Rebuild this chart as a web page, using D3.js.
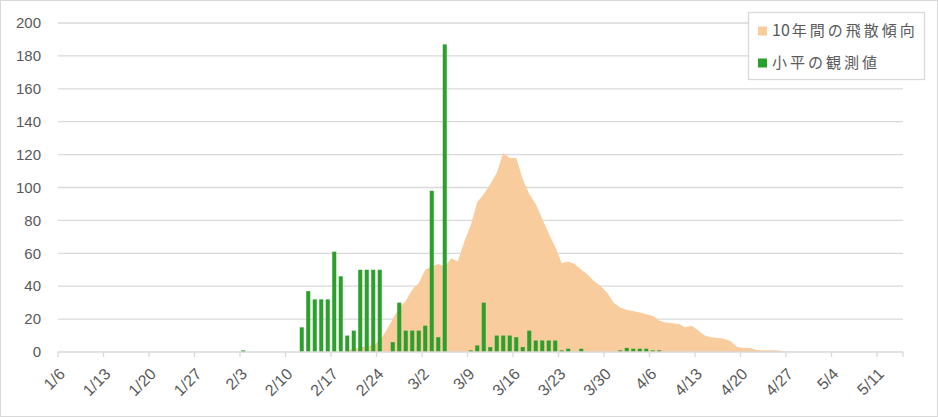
<!DOCTYPE html>
<html><head><meta charset="utf-8">
<script src="https://cdn.jsdelivr.net/npm/d3@7"></script>
<style>
html,body{margin:0;padding:0;background:#fff;}
svg{display:block;}
text{font-family:"Liberation Sans","Noto Sans",sans-serif;}
.cjk{font-family:"Noto Sans CJK JP","Noto Sans",sans-serif;}
</style></head>
<body>
<script>
// ---- data ----
const firstDay = "2020-01-06";
const lastDay = "2020-05-14";
const xTickLabels = ["1/6","1/13","1/20","1/27","2/3","2/10","2/17","2/24","3/2","3/9","3/16","3/23","3/30","4/6","4/13","4/20","4/27","5/4","5/11"];
const yTicks = [0,20,40,60,80,100,120,140,160,180,200];
const seriesNames = ["10年間の飛散傾向","小平の観測値"];
// 10-year trend, one value per day starting at trendStart
const trendStart = "2/18";
const trendValues = [0,1,2,3,3.5,4,7,13,20,27,31,38,42,50,52,53.5,52,57,55,67,77,91,96,102,109,121,118,118,105,96,90,81,72,64,54,55,53.5,50,47,43,40,36,30,27,25.5,25,24,23,22,19,18,17.5,17,15,16,13,10,9,8.5,8,6.5,3,2.5,2.4,1.2,1,1,1,0.5,0];
// observed values in Kodaira
const obsDates = ["2/3","2/12","2/13","2/14","2/15","2/16","2/17","2/18","2/19","2/20","2/21","2/22","2/23","2/24","2/26","2/27","2/28","2/29","3/1","3/2","3/3","3/4","3/5","3/9","3/10","3/11","3/12","3/13","3/14","3/15","3/16","3/17","3/18","3/19","3/20","3/21","3/22","3/23","3/24","3/26","4/1","4/2","4/3","4/4","4/5","4/6","4/7"];
const obsValues = [1,15,37,32,32,32,61,46,10,13,50,50,50,50,6,30,13,13,13,16,98,9,187,1,4,30,3,10,10,10,9,3,13,7,7,7,7,1,2,2,1,2.5,2,2,2,1,1];

(function(){
const W = 938, H = 417;
const fmt = d3.timeFormat("%-m/%-d");
const days = d3.timeDay.range(new Date(firstDay+"T00:00"), d3.timeDay.offset(new Date(lastDay+"T00:00"),1)).map(fmt);

const svg = d3.select("body").append("svg").attr("width",W).attr("height",H);
svg.append("rect").attr("x",0.5).attr("y",0.5).attr("width",W-1).attr("height",H-1)
  .attr("fill","#fff").attr("stroke","#d9d9d9");

const mL = 58, mR = 903, mT = 23, mB = 352;
const pad = 0.38;
const x = d3.scaleBand().domain(days).range([mL,mR]).paddingInner(pad).paddingOuter(pad/2);
const y = d3.scaleLinear().domain([0,200]).range([mB,mT]);
const step = x.step();
const tickX = d => x(d) - step*pad/2;

svg.append("g").selectAll("line").data(yTicks.filter(v=>v>0)).join("line")
  .attr("x1",mL).attr("x2",mR).attr("y1",d=>y(d)).attr("y2",d=>y(d))
  .attr("stroke","#d9d9d9").attr("stroke-width",1.3);

svg.append("g").selectAll("text").data(yTicks).join("text")
  .attr("x",41).attr("y",d=>y(d)).attr("dy","0.35em").attr("text-anchor","end")
  .attr("font-size",15).attr("fill","#595959").text(d=>d);

const si = days.indexOf(trendStart);
const trend = trendValues.map((v,i)=>({d:days[si+i], v}));
svg.append("path").datum(trend)
  .attr("fill","#f9cc9d")
  .attr("d", d3.area().x(p=>x(p.d)+x.bandwidth()/2).y0(y(0)).y1(p=>y(p.v)));

const obs = obsDates.map((d,i)=>({d, v:obsValues[i]}));
svg.append("g").selectAll("rect").data(obs).join("rect")
  .attr("x",p=>x(p.d)).attr("width",x.bandwidth())
  .attr("y",p=>y(p.v)).attr("height",p=>y(0)-y(p.v))
  .attr("fill","#2ca02c");

svg.append("line").attr("x1",mL).attr("x2",mR).attr("y1",mB).attr("y2",mB)
  .attr("stroke","#d9d9d9").attr("stroke-width",1.3);
svg.append("g").selectAll("line").data(xTickLabels).join("line")
  .attr("x1",d=>tickX(d)).attr("x2",d=>tickX(d)).attr("y1",mB).attr("y2",mB+5)
  .attr("stroke","#d9d9d9").attr("stroke-width",1.3);
svg.append("line").attr("x1",mR).attr("x2",mR).attr("y1",mB).attr("y2",mB+5)
  .attr("stroke","#d9d9d9").attr("stroke-width",1.3);
svg.append("g").selectAll("text").data(xTickLabels).join("text")
  .attr("transform",d=>`translate(${tickX(d)+4},${mB+19}) rotate(-45)`)
  .attr("text-anchor","end").attr("dy","0.35em")
  .attr("font-size",16).attr("fill","#595959").text(d=>d);

const lg = svg.append("g");
lg.append("rect").attr("x",748.5).attr("y",12.5).attr("width",176).attr("height",67)
  .attr("fill","#fff").attr("stroke","#d9d9d9").attr("stroke-width",1.3);
const colors = ["#f9cc9d","#2ca02c"];
seriesNames.forEach((n,i)=>{
  const cy = 31 + i*32;
  lg.append("rect").attr("x",758).attr("y",cy-4.5).attr("width",9).attr("height",9).attr("fill",colors[i]);
  const t = lg.append("text").attr("class","cjk").attr("x",772).attr("y",cy).attr("dy","0.36em")
    .attr("font-size",15).attr("fill","#595959");
  const m = n.match(/^(\d*)(.*)$/);
  if (m[1]) t.append("tspan").attr("font-size",16).text(m[1]);
  t.append("tspan").attr("dx", m[1] ? 2 : 0).attr("letter-spacing",3).text(m[2]);
});
})();
</script>
</body></html>
